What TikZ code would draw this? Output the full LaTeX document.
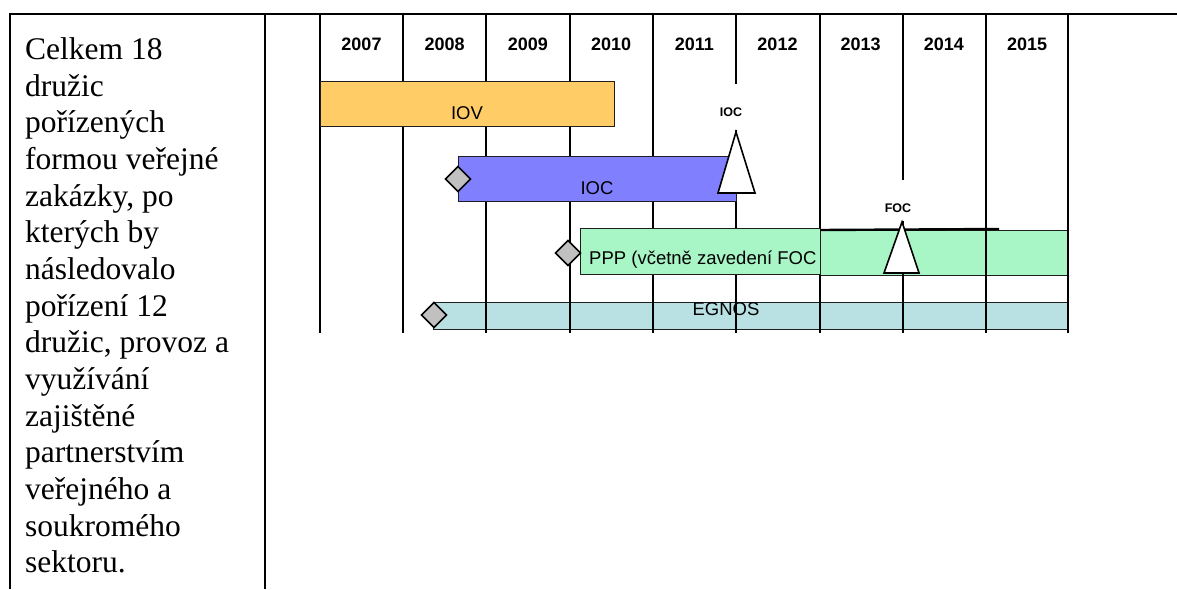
\documentclass[tikz,border=0pt]{standalone}
\usepackage{fontspec}
\setmainfont{Liberation Serif}
\newfontfamily\arialf{Liberation Sans}
\definecolor{iovc}{RGB}{255,204,102}
\definecolor{iocc}{RGB}{128,128,255}
\definecolor{pppc}{RGB}{168,245,198}
\definecolor{egnc}{RGB}{185,224,227}
\definecolor{diac}{RGB}{192,192,192}
\definecolor{edgec}{RGB}{30,30,30}
\tikzset{
  frameline/.style={line width=1.8pt, black},
  yearline/.style={line width=1.8pt, black},
  bar/.style={draw=edgec, line width=1.3pt, inner sep=0pt, anchor=north west},
  yearlbl/.style={font=\arialf\bfseries\fontsize{18}{21}\selectfont, inner sep=0pt},
  barlbl/.style={font=\arialf\fontsize{18.5}{21}\selectfont, inner sep=0pt},
  msl/.style={font=\arialf\bfseries\fontsize{12.5}{14}\selectfont, inner sep=0pt},
  tri/.style={draw=black, fill=white, line width=1.6pt, line join=miter},
  dia/.style={draw=black, fill=diac, line width=1.6pt}
}
\begin{document}
\begin{tikzpicture}[x=1pt,y=-1pt]
\useasboundingbox (0,0) rectangle (1177,589);
% frame
\draw[frameline] (10,589) -- (10,14) -- (1177,14);
\draw[frameline] (265,14) -- (265,589);
% left text
\node[anchor=north west, inner sep=0pt, align=left, font=\fontsize{31.5}{36.65}\selectfont] (txt) at (25,37.5) {Celkem 18\\družic\\pořízených\\formou veřejné\\zakázky, po\\kterých by\\následovalo\\pořízení 12\\družic, provoz a\\využívání\\zajištěné\\partnerstvím\\veřejného a\\soukromého\\sektoru.};
% bars under the lines
\node[bar, fill=egnc, minimum width=635, minimum height=27] (egnos) at (433,302) {};
\node[barlbl] (egnoslbl) at (726,309.5) {EGNOS};
\node[bar, fill=pppc, minimum width=248, minimum height=45] (ppp2) at (820,230) {};
% year grid lines
\foreach \xx in {320,403,486,570,653,820,986,1068}
  \draw[yearline] (\xx,14) -- (\xx,333);
\draw[yearline] (736,14) -- (736,84);
\draw[yearline] (736,130) -- (736,333);
\draw[yearline] (903,14) -- (903,180);
\draw[yearline] (903,221) -- (903,333);
% years
\foreach \yr [count=\i from 0] in {2007,...,2015}
  \node[yearlbl] (y\yr) at (361.5+83.2*\i,44) {\yr};
% bars on top
\node[bar, fill=iovc, minimum width=294, minimum height=45] (iov) at (320,81) {};
\node[barlbl] (iovlbl) at (467,113) {IOV};
\node[bar, fill=iocc, minimum width=278, minimum height=45] (ioc) at (458,156) {};
\node[barlbl] (ioclbl) at (597,188) {IOC};
\node[bar, fill=pppc, minimum width=240, minimum height=46] (ppp) at (580,228) {};
\node[barlbl, anchor=west] (ppplbl) at (589,260) {PPP (včetně zavedení FOC};
\draw[line width=2.4pt] (ppp2.north west) -- (999,229);
% milestones
\draw[tri] (736,132) -- (755,193) -- (718,193) -- cycle;
\draw[tri] (902,222) -- (919,273) -- (884,273) -- cycle;
\node[msl] (iocms) at (731,112) {IOC};
\node[msl] (focms) at (898,208) {FOC};
\draw[dia] (458,166.5) -- (470.5,179) -- (458,191.5) -- (445.5,179) -- cycle;
\draw[dia] (568,240.5) -- (580.5,253) -- (568,265.5) -- (555.5,253) -- cycle;
\draw[dia] (434,302.5) -- (446.5,315) -- (434,327.5) -- (421.5,315) -- cycle;
\end{tikzpicture}
\end{document}
